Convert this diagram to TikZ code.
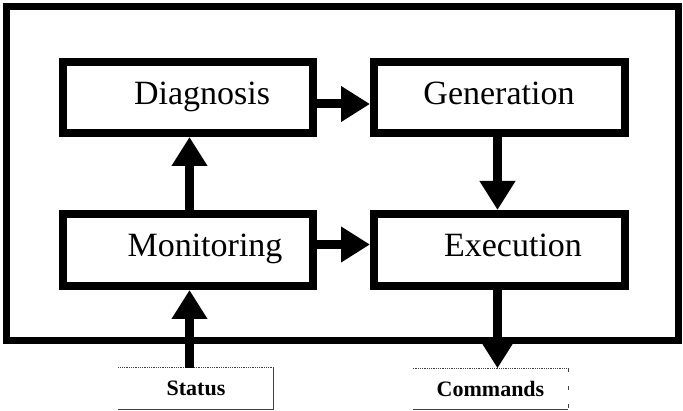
\documentclass[tikz,border=0pt]{standalone}
\usepackage{fontspec}
\setmainfont{Liberation Serif}
\usetikzlibrary{arrows.meta}
\begin{document}
\begin{tikzpicture}[x=1pt,y=-1pt,
  block/.style={draw, line width=8pt, minimum width=250pt, minimum height=71pt, inner sep=0pt},
  blocktext/.style={anchor=base, font=\fontsize{34}{40}\selectfont, inner sep=0pt},
  flow/.style={line width=9pt, -{Triangle[length=29pt,width=34pt]}},
  io/.style={minimum width=155pt, minimum height=41pt, inner sep=0pt,
             text height=15pt, text depth=0pt, font=\fontsize{22}{26}\selectfont\bfseries},
  ioedge/.style={line width=0.8pt, black!75}]
\useasboundingbox (0,0) rectangle (683,411);

% system frame
\draw[line width=7pt] (6.5,7) rectangle (678.5,341);

% functional blocks
\node[block] (diag) at (188,97.5) {};
\node[block, minimum width=251pt] (gen) at (499.5,97.5) {};
\node[block, minimum height=72pt] (mon) at (188,250) {};
\node[block, minimum width=251pt, minimum height=72pt] (exec) at (499.5,250) {};

\node[blocktext] (diagtxt) at (202,105) {Diagnosis};
\node[blocktext] (gentxt) at (499,105) {Generation};
\node[blocktext] (montxt) at (205,257) {Monitoring};
\node[blocktext] (exectxt) at (513,257) {Execution};

% external inputs and outputs
\node[io] (status) at (196,388.5) {Status};
\node[io] (cmd) at (490.5,389) {Commands};
\draw[ioedge, densely dotted] (status.north west) -- (status.north east);
\draw[ioedge] (status.north east) -- (status.south east) -- (status.south west);
\draw[ioedge, densely dotted] (cmd.north west) -- (cmd.north east);
\draw[ioedge] (cmd.south west) -- (cmd.south east);
\draw[ioedge, dash pattern=on 4pt off 14pt] (cmd.north east) -- (cmd.south east);

% information flow
\draw[flow] ([yshift=-6.5pt]diag.east) -- ([yshift=-6.5pt]gen.west);
\draw[flow] ([yshift=5.5pt]mon.east) -- ([yshift=5.5pt]mon.east -| gen.west);
\draw[flow] ([xshift=1.5pt]mon.north) -- ([xshift=1.5pt]diag.south);
\draw[flow] ([xshift=-2pt]gen.south) -- ([xshift=-2pt]exec.north);
\draw[flow] ([xshift=1.5pt]mon.south |- status.north) -- ([xshift=1.5pt]mon.south);
\draw[flow] ([xshift=-2pt]exec.south) -- ([xshift=-2pt]exec.south |- cmd.north);
\end{tikzpicture}
\end{document}
